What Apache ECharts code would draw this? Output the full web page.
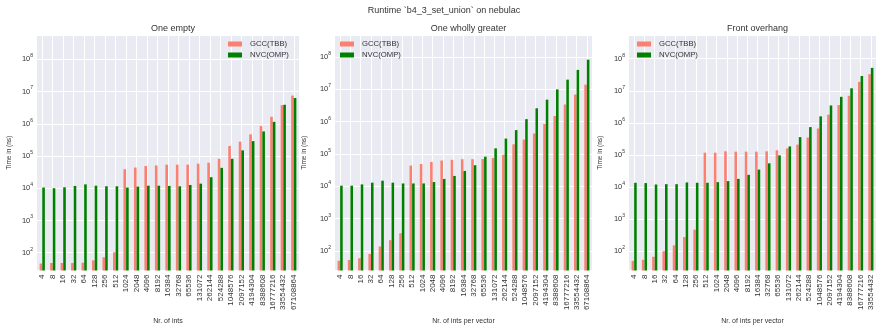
<!DOCTYPE html>
<html>
<head>
<meta charset="utf-8">
<title>Runtime b4_3_set_union on nebulac</title>
<script src="https://cdn.jsdelivr.net/npm/echarts@6/dist/echarts.min.js"></script>
<style>
  html, body { margin: 0; padding: 0; background: #ffffff; }
  #chart { width: 878px; height: 330px; }
</style>
</head>
<body>
<div id="chart"></div>
<script>
// Vector sizes (number of ints) used as categories
const sizesLong = ['4', '8', '16', '32', '64', '128', '256', '512', '1024', '2048', '4096',
  '8192', '16384', '32768', '65536', '131072', '262144', '524288', '1048576', '2097152',
  '4194304', '8388608', '16777216', '33554432', '67108864'];
const sizesShort = ['4', '8', '16', '32', '64', '128', '256', '512', '1024', '2048', '4096',
  '8192', '16384', '32768', '65536', '131072', '262144', '524288', '1048576', '2097152',
  '4194304', '8388608', '16777216', '33554432'];

// Runtimes in ns — "One empty"
const emptyGcc = [46, 48, 48, 48, 49, 58, 72, 103, 3.9e4, 4.4e4, 4.9e4, 5.1e4, 5.4e4, 5.4e4,
  5.4e4, 5.8e4, 6.2e4, 8.2e4, 2.05e5, 2.8e5, 4.7e5, 8.5e5, 1.65e6, 3.8e6, 7.5e6];
const emptyNvc = [1.05e4, 1.0e4, 1.07e4, 1.18e4, 1.32e4, 1.2e4, 1.15e4, 1.15e4, 1.05e4, 1.12e4,
  1.2e4, 1.2e4, 1.18e4, 1.15e4, 1.26e4, 1.39e4, 2.2e4, 4.3e4, 8.2e4, 1.5e5, 2.9e5, 5.8e5,
  1.15e6, 3.9e6, 6.3e6];

// Runtimes in ns — "One wholly greater"
const greaterGcc = [50, 53, 60, 81, 138, 217, 355, 4.4e4, 4.9e4, 5.7e4, 6.3e4, 6.6e4, 6.9e4,
  6.9e4, 7.0e4, 7.5e4, 9.5e4, 2.0e5, 2.8e5, 4.3e5, 8.5e5, 1.5e6, 3.4e6, 6.9e6, 1.4e7];
const greaterNvc = [1.05e4, 1.05e4, 1.15e4, 1.3e4, 1.5e4, 1.3e4, 1.23e4, 1.23e4, 1.23e4, 1.36e4,
  1.7e4, 2.1e4, 3.0e4, 4.5e4, 8.3e4, 1.5e5, 3.0e5, 5.5e5, 1.2e6, 2.6e6, 4.8e6, 1.0e7, 2.0e7,
  4.0e7, 8.3e7];

// Runtimes in ns — "Front overhang"
const overhangGcc = [50, 54, 67, 100, 152, 275, 470, 1.18e5, 1.18e5, 1.3e5, 1.27e5, 1.27e5,
  1.27e5, 1.3e5, 1.4e5, 1.6e5, 2.1e5, 3.5e5, 6.7e5, 1.8e6, 3.6e6, 7.0e6, 1.9e7, 3.3e7];
const overhangNvc = [1.36e4, 1.33e4, 1.2e4, 1.23e4, 1.23e4, 1.39e4, 1.36e4, 1.36e4, 1.42e4,
  1.53e4, 1.8e4, 2.4e4, 3.5e4, 5.5e4, 9.7e4, 1.85e5, 3.6e5, 7.4e5, 1.6e6, 3.5e6, 6.5e6,
  1.2e7, 2.9e7, 5.2e7];

const seriesNames = ['GCC(TBB)', 'NVC(OMP)'];
const seriesColors = ['#FA8072', '#008000'];

const FONT = '"Liberation Sans", Arial, sans-serif';
const TEXT = '#333333';

const panels = [
  { title: 'One empty', xName: 'Nr. of ints', cats: sizesLong, gcc: emptyGcc, nvc: emptyNvc,
    left: 37, width: 262, yMin: 28, yMax: 5.7e8, yNameGap: 24, legendLeft: 223 },
  { title: 'One wholly greater', xName: 'Nr. of ints per vector', cats: sizesLong,
    gcc: greaterGcc, nvc: greaterNvc,
    left: 335, width: 257, yMin: 25, yMax: 4.8e8, yNameGap: 27, legendLeft: 335 },
  { title: 'Front overhang', xName: 'Nr. of ints per vector', cats: sizesShort,
    gcc: overhangGcc, nvc: overhangNvc,
    left: 629, width: 247, yMin: 25, yMax: 5.5e8, yNameGap: 25, legendLeft: 632 }
];

const GRID_TOP = 35;
const GRID_H = 240;

// Log-axis labels as 10 with a raised exponent; only whole decades get a label
function decadeLabel(v) {
  const e = Math.log10(v);
  const r = Math.round(e);
  if (Math.abs(e - r) > 1e-6) return '';
  return '{b|10}{s|' + r + '}';
}

const option = {
  animation: false,
  backgroundColor: '#ffffff',
  textStyle: { fontFamily: FONT },
  title: [
    { text: 'Runtime `b4_3_set_union` on nebulac', left: 439, top: 1, textAlign: 'center',
      textStyle: { fontSize: 9, fontWeight: 'normal', color: TEXT, fontFamily: FONT } }
  ].concat(panels.map(p => ({
    text: p.title, left: p.left + p.width / 2, top: 19, textAlign: 'center',
    textStyle: { fontSize: 9, fontWeight: 'normal', color: TEXT, fontFamily: FONT }
  }))),
  legend: panels.map(p => ({
    data: seriesNames,
    orient: 'vertical',
    left: p.legendLeft,
    top: 35,
    icon: 'rect',
    itemWidth: 14,
    itemHeight: 5,
    itemGap: 3,
    selectedMode: false,
    textStyle: { fontSize: 7.7, color: TEXT, fontFamily: FONT, padding: [0, 0, 0, 3] }
  })),
  grid: panels.map(p => ({
    left: p.left, top: GRID_TOP, width: p.width, height: GRID_H,
    show: true, backgroundColor: '#EAEAF2', borderWidth: 0
  })),
  xAxis: panels.map((p, i) => ({
    type: 'category',
    gridIndex: i,
    data: p.cats,
    axisLine: { show: false },
    axisTick: { show: false },
    axisLabel: { interval: 0, rotate: 90, fontSize: 8, color: TEXT, margin: 4, fontFamily: FONT },
    splitLine: { show: true, interval: 0, alignWithLabel: true,
      lineStyle: { color: '#ffffff', width: 1 } },
    name: p.xName,
    nameLocation: 'middle',
    nameGap: 47,
    nameTextStyle: { fontSize: 7, color: TEXT, fontFamily: FONT }
  })),
  yAxis: panels.map((p, i) => ({
    type: 'log',
    gridIndex: i,
    logBase: 10,
    min: p.yMin,
    max: p.yMax,
    axisLine: { show: false },
    axisTick: { show: false },
    splitLine: { show: true, lineStyle: { color: '#ffffff', width: 1 } },
    axisLabel: {
      margin: 4,
      formatter: decadeLabel,
      rich: {
        b: { fontSize: 7.5, color: TEXT, lineHeight: 12, fontFamily: FONT },
        s: { fontSize: 5, color: TEXT, lineHeight: 6, verticalAlign: 'top', fontFamily: FONT }
      }
    },
    name: 'Time in (ns)',
    nameLocation: 'middle',
    nameGap: p.yNameGap,
    nameTextStyle: { fontSize: 6.5, color: TEXT, fontFamily: FONT }
  })),
  series: []
};

panels.forEach((p, i) => {
  [p.gcc, p.nvc].forEach((vals, k) => {
    option.series.push({
      type: 'bar',
      name: seriesNames[k],
      xAxisIndex: i,
      yAxisIndex: i,
      data: vals,
      barWidth: '25%',
      barGap: '0%',
      clip: true,
      itemStyle: { color: seriesColors[k] },
      emphasis: { disabled: true }
    });
  });
});

const chart = echarts.init(document.getElementById('chart'), null, { renderer: 'canvas' });
chart.setOption(option);
</script>
</body>
</html>
